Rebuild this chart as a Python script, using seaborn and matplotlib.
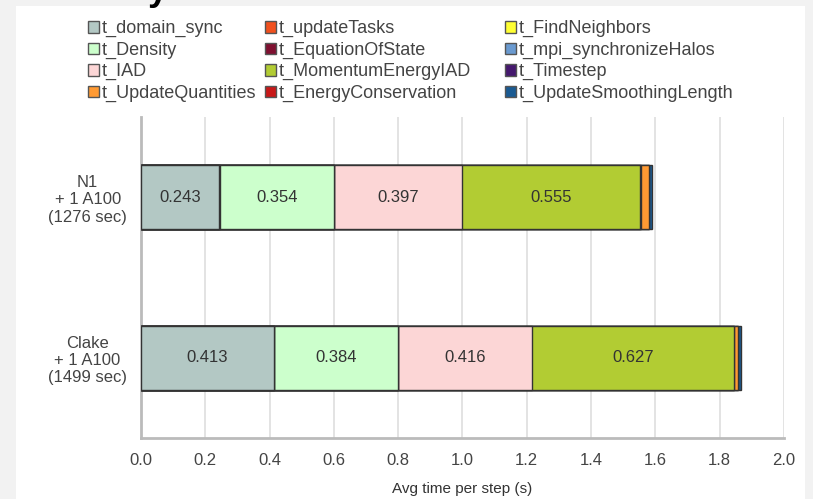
import matplotlib
matplotlib.use("Agg")
import matplotlib.pyplot as plt
import matplotlib.patches as mpatches
import seaborn as sns
import pandas as pd
import numpy as np

systems = ["N1\n+ 1 A100\n(1276 sec)", "Clake\n+ 1 A100\n(1499 sec)"]

componentes = ["t_domain_sync", "t_updateTasks", "t_FindNeighbors", "t_Density",
               "t_EquationOfState", "t_mpi_synchronizeHalos", "t_IAD",
               "t_MomentumEnergyIAD", "t_Timestep", "t_UpdateQuantities",
               "t_EnergyConservation", "t_UpdateSmoothingLength"]

n1_vals = [0.243, 0.001, 0.001, 0.354, 0.001, 0.0, 0.397, 0.555, 0.002, 0.026, 0.001, 0.009]
clake_vals = [0.413, 0.001, 0.001, 0.384, 0.001, 0.0, 0.416, 0.627, 0.002, 0.012, 0.001, 0.009]

colores = ["#b3c8c4", "#f0501e", "#ffff33", "#ccffcc", "#7f1030", "#6a9ad0",
           "#fcd6d6", "#b2cc33", "#45186e", "#ff9a33", "#c81818", "#1a5a92"]

etiquetados = ["t_domain_sync", "t_Density", "t_IAD", "t_MomentumEnergyIAD"]

df = pd.DataFrame({"system": systems})
for i, c in enumerate(componentes):
    df[c] = [n1_vals[i], clake_vals[i]]

sns.set_theme(style="white")
plt.rcParams["font.family"] = ["Liberation Sans", "DejaVu Sans"]

fig = plt.figure(figsize=(8.13, 4.99), dpi=100, facecolor="#f2f2f2")
fig.patches.append(mpatches.Rectangle((16 / 813, 0), 789 / 813, 1 - 6 / 499,
                                      transform=fig.transFigure, facecolor="white",
                                      edgecolor="none", zorder=-10))
ax = fig.add_axes([0.1734, 0.1222, 0.7909, 0.6433])
ax.set_zorder(2)
ax.set_facecolor("white")

# barras apiladas: se dibujan las sumas acumuladas de la mas larga a la mas corta
acum = df[componentes].cumsum(axis=1)
for c, col in reversed(list(zip(componentes, colores))):
    sns.barplot(x=acum[c], y=df["system"], color=col, orient="h", width=0.4,
                edgecolor="#333333", linewidth=1.0, ax=ax, zorder=3, saturation=1)

# etiquetas dentro de las barras
for j in range(len(systems)):
    for c in etiquetados:
        fin = acum.loc[j, c]
        val = df.loc[j, c]
        ax.text(fin - val / 2, j, f"{val:.3f}", ha="center", va="center",
                fontsize=12, color="#333333", zorder=5)

ax.set_xlim(0, 2.0)
ax.set_ylim(1.5, -0.5)
ax.set_xticks(np.arange(0, 2.01, 0.2))
ax.set_xticklabels([f"{t:.1f}" for t in np.arange(0, 2.01, 0.2)], fontsize=12, color="#444444")
ax.set_yticks([0, 1])
ax.set_yticklabels(systems, fontsize=12, color="#444444", multialignment="center",
                   linespacing=1.2)
ax.set_yticks([-0.5, 0.5, 1.5], minor=True)
ax.tick_params(axis="y", which="major", length=0, pad=10)
ax.tick_params(axis="y", which="minor", length=6, width=1.5, color="#bbbbbb", direction="out")
ax.tick_params(axis="x", which="major", length=0, pad=11)
ax.grid(axis="x", color="#dedede", linewidth=1.2, zorder=0)
ax.set_axisbelow(True)
for s in ["top", "right"]:
    ax.spines[s].set_visible(False)
for s in ["left", "bottom"]:
    ax.spines[s].set_color("#bbbbbb")
    ax.spines[s].set_linewidth(2)
ax.set_ylabel("")
ax.set_xlabel("Avg time per step (s)", fontsize=11, color="#333333", labelpad=10)

# leyenda: tres columnas separadas, cada una con cuatro entradas
handles = {c: mpatches.Patch(facecolor=col, edgecolor="#555555", linewidth=1)
           for c, col in zip(componentes, colores)}
x_cols = [72, 249, 489]
for col in range(3):
    nombres = [componentes[fila * 3 + col] for fila in range(4)]
    leg = fig.legend([handles[c] for c in nombres], nombres, loc="upper left",
                     bbox_to_anchor=(x_cols[col] / 813, 0.992), ncol=1, frameon=False,
                     fontsize=13, handlelength=0.6, handleheight=0.6, handletextpad=0.15,
                     labelspacing=0.24, labelcolor="#444444")

fig.text(0.182, 1.02, "y", fontsize=26, fontweight="bold", color="black", va="center")

fig.savefig("out.png", dpi=100, facecolor=fig.get_facecolor())
plt.close(fig)
